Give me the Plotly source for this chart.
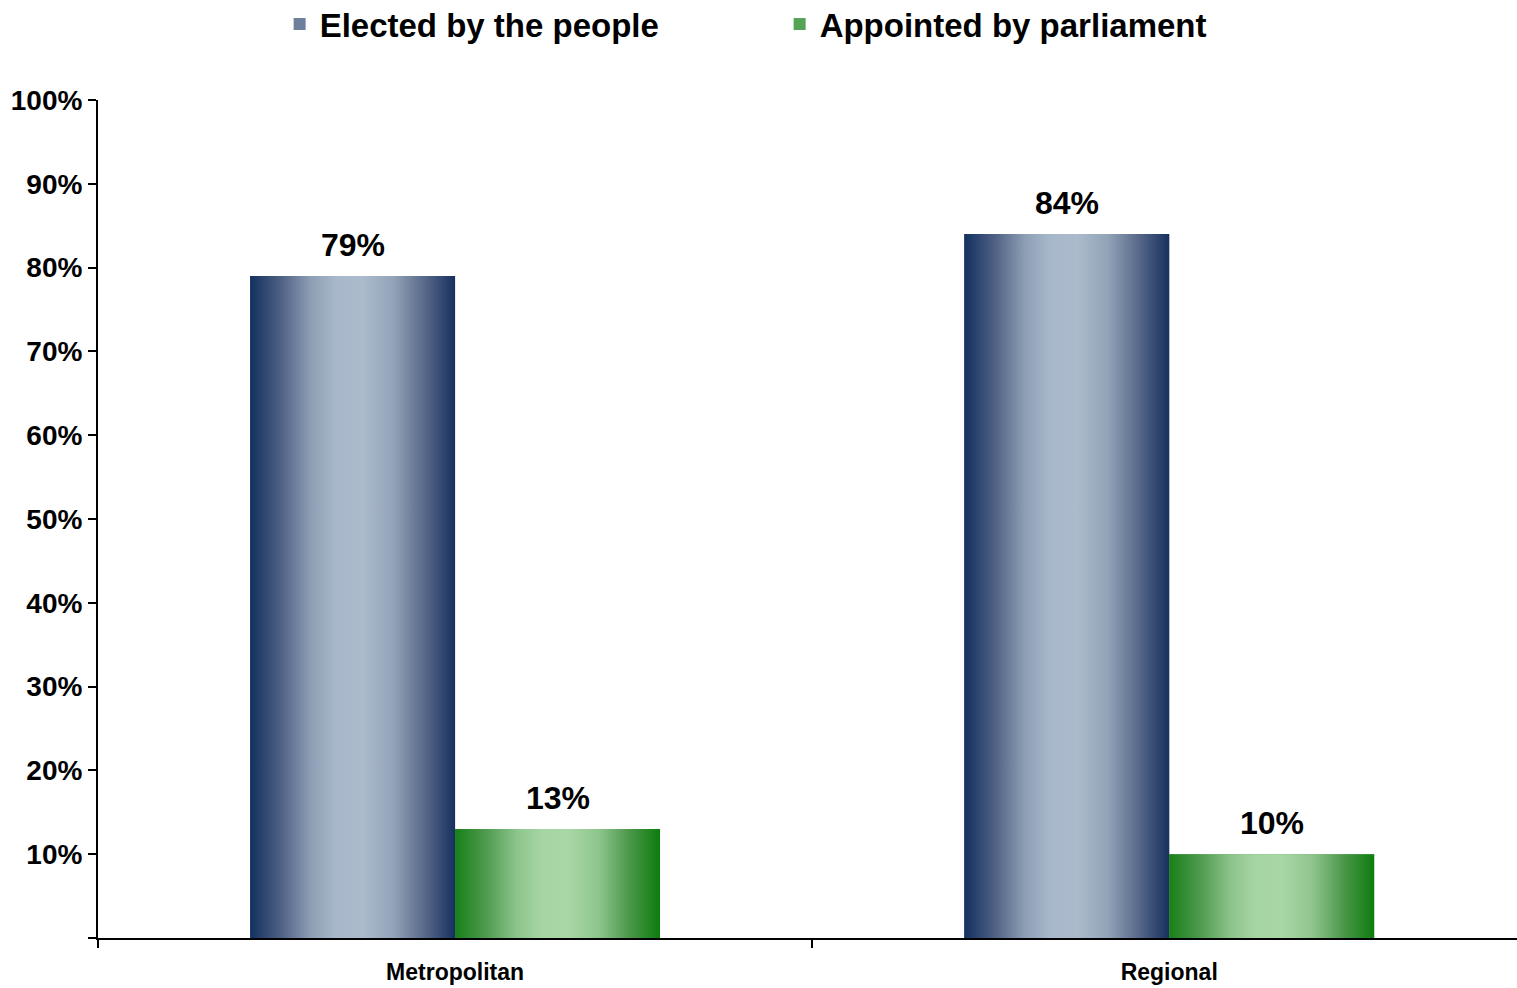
import plotly.graph_objects as go

# Survey shares by region type
categories = ["Metropolitan", "Regional"]
series_names = ["Elected by the people", "Appointed by parliament"]
elected = [79, 84]
appointed = [13, 10]
y_ticks = [0, 10, 20, 30, 40, 50, 60, 70, 80, 90, 100]

series_values = [elected, appointed]
BAR_W = 0.287
offsets = [-BAR_W, 0.0]
gradients = [
    [[0, "#13305f"], [0.15, "#4f6184"], [0.3, "#8fa0b6"], [0.42, "#a8b8cb"],
     [0.55, "#abbbcc"], [0.7, "#93a3b8"], [0.85, "#58698a"], [1, "#16305f"]],
    [[0, "#187f18"], [0.15, "#4e9a4e"], [0.3, "#8cc48b"], [0.42, "#a6d5a4"],
     [0.55, "#a9d7a7"], [0.7, "#8fc58d"], [0.85, "#4b974a"], [1, "#0d7d0d"]],
]
legend_colors = ["#6d819d", "#55a455"]

FONT = "Liberation Sans"

fig = go.Figure()

# Base bars (carry values and legend entries)
for name, vals, off, col in zip(series_names, series_values, offsets, legend_colors):
    fig.add_trace(go.Bar(
        name=name, x=categories, y=vals, width=BAR_W, offset=off,
        marker=dict(color=col, line=dict(width=0)),
        hoverinfo="skip",
    ))

# Horizontal gradient fill drawn over each bar on a numeric overlay axis
for vals, off, cs in zip(series_values, offsets, gradients):
    for i, v in enumerate(vals):
        x0 = i + off
        x1 = x0 + BAR_W
        fig.add_trace(go.Scatter(
            x=[x0, x1, x1, x0, x0], y=[0, 0, v, v, 0],
            xaxis="x2", mode="lines", line=dict(width=0),
            fill="toself",
            fillgradient=dict(type="horizontal", colorscale=cs),
            showlegend=False, hoverinfo="skip",
        ))

# Value labels above each bar
for vals, off in zip(series_values, offsets):
    for i, v in enumerate(vals):
        fig.add_annotation(
            x=i + off + BAR_W / 2, y=v, xref="x2", yref="y",
            text=f"{v}%", showarrow=False, yanchor="bottom", yshift=11,
            font=dict(family=FONT, size=32, color="black", weight="bold"),
        )

XRANGE = [-0.5, 1.487]

fig.update_layout(
    width=1517, height=988,
    margin=dict(l=98, r=0, t=100, b=50, autoexpand=False),
    paper_bgcolor="white", plot_bgcolor="white",
    barmode="overlay",
    showlegend=True,
    legend=dict(
        orientation="h", x=0.128, xanchor="left", y=1.124, yanchor="top",
        font=dict(family=FONT, size=33, color="black", weight="bold"),
        entrywidth=455, entrywidthmode="pixels",
        bgcolor="rgba(0,0,0,0)",
    ),
    xaxis=dict(
        type="category", range=XRANGE, tickson="boundaries",
        ticks="outside", ticklen=8, tickwidth=2, tickcolor="black",
        showline=True, linecolor="black", linewidth=2,
        showgrid=False, zeroline=False,
        tickfont=dict(family=FONT, size=23, color="black", weight="bold"),
        ticklabelstandoff=12,
    ),
    xaxis2=dict(
        overlaying="x", range=XRANGE, visible=False, showgrid=False,
        zeroline=False,
    ),
    yaxis=dict(
        range=[0, 100], tickvals=y_ticks,
        ticktext=["" if t == 0 else f"{t}%" for t in y_ticks],
        ticks="outside", ticklen=8, tickwidth=2, tickcolor="black",
        showline=True, linecolor="black", linewidth=2,
        showgrid=False, zeroline=False,
        tickfont=dict(family=FONT, size=28, color="black", weight="bold"),
    ),
)

fig.write_html("out.html")
